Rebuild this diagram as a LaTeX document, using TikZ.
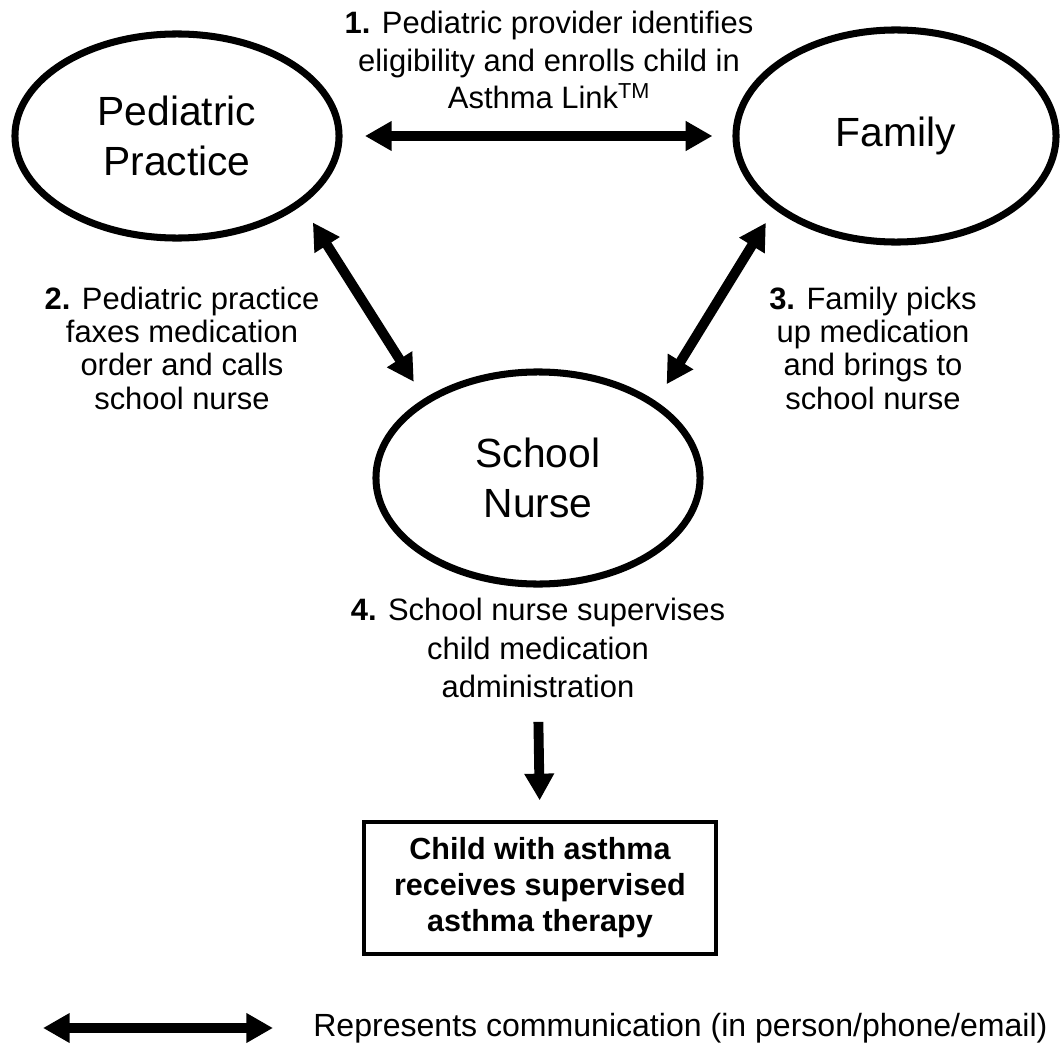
\documentclass[tikz,border=0pt]{standalone}
\usepackage{fontspec}
\setmainfont{Liberation Sans}
\usetikzlibrary{arrows.meta,shapes.geometric}

\begin{document}
\begin{tikzpicture}[x=0.025cm, y=-0.025cm]
  \tikzstyle{acteur}=[ellipse, draw, line width=5pt, inner sep=0, align=center, font=\fontsize{29}{35.6}\selectfont];
  \tikzstyle{etape}=[align=center, inner sep=0];
  \tikzstyle{comm}=[line width=7pt, {Triangle[length=19pt,width=20pt]}-{Triangle[length=19pt,width=20pt]}];
  \tikzstyle{flux}=[line width=7pt, -{Triangle[length=19pt,width=20pt]}];

  \useasboundingbox (0,0) rectangle (1061,1045);

  % les trois acteurs
  \coordinate (P) at (177,136);
  \coordinate (F) at (896,136);
  \coordinate (S) at (538,478);

  \node[acteur, minimum width=8.1cm, minimum height=5.1cm] (pp) at (P) {Pediatric\\Practice};
  \node[acteur, minimum width=8.0cm, minimum height=5.3cm] (fam) at (F) {Family};
  \node[acteur, minimum width=8.1cm, minimum height=5.3cm] (sn) at (S) {School\\Nurse};

  % les etapes
  \node[etape, font=\fontsize{22}{26.7}\selectfont] (step1) at (549,60)
    {\textbf{1.} Pediatric provider identifies\\eligibility and enrolls child in\\Asthma Link\textsuperscript{TM}};
  \node[etape, font=\fontsize{22}{23.7}\selectfont] (step2) at (182,348)
    {\textbf{2.} Pediatric practice\\faxes medication\\order and calls\\school nurse};
  \node[etape, font=\fontsize{22}{23.7}\selectfont] (step3) at (873,348)
    {\textbf{3.} Family picks\\up medication\\and brings to\\school nurse};
  \node[etape, font=\fontsize{22}{27.2}\selectfont] (step4) at (538,648)
    {\textbf{4.} School nurse supervises\\child medication\\administration};

  \node[draw, line width=2.3pt, minimum width=8.8cm, minimum height=3.3cm, align=center,
    font=\bfseries\fontsize{21.7}{25.6}\selectfont] (child) at (540,888)
    {Child with asthma\\receives supervised\\asthma therapy};

  % communication
  \draw[comm, shorten <=0.56cm, shorten >=0.5cm] (pp.east) -- (fam.west);
  \draw[comm, shorten <=0.51cm, shorten >=0.49cm] (pp.-29.3) -- (sn.145.9);
  \draw[comm, shorten <=0.4cm, shorten >=0.5cm] (fam.211.4) -- (sn.33.9);
  \draw[flux, shorten <=0.6cm, shorten >=0.5cm] (step4.south) -- (child.north);

  % legende
  \coordinate (legL) at (43,1028);
  \coordinate (legR) at (273,1028);
  \draw[comm] (legL) -- (legR);
  \node[anchor=west, inner sep=0, font=\fontsize{22.8}{24}\selectfont] (legende) at (313,1028)
    {Represents communication (in person/phone/email)};
\end{tikzpicture}
\end{document}
